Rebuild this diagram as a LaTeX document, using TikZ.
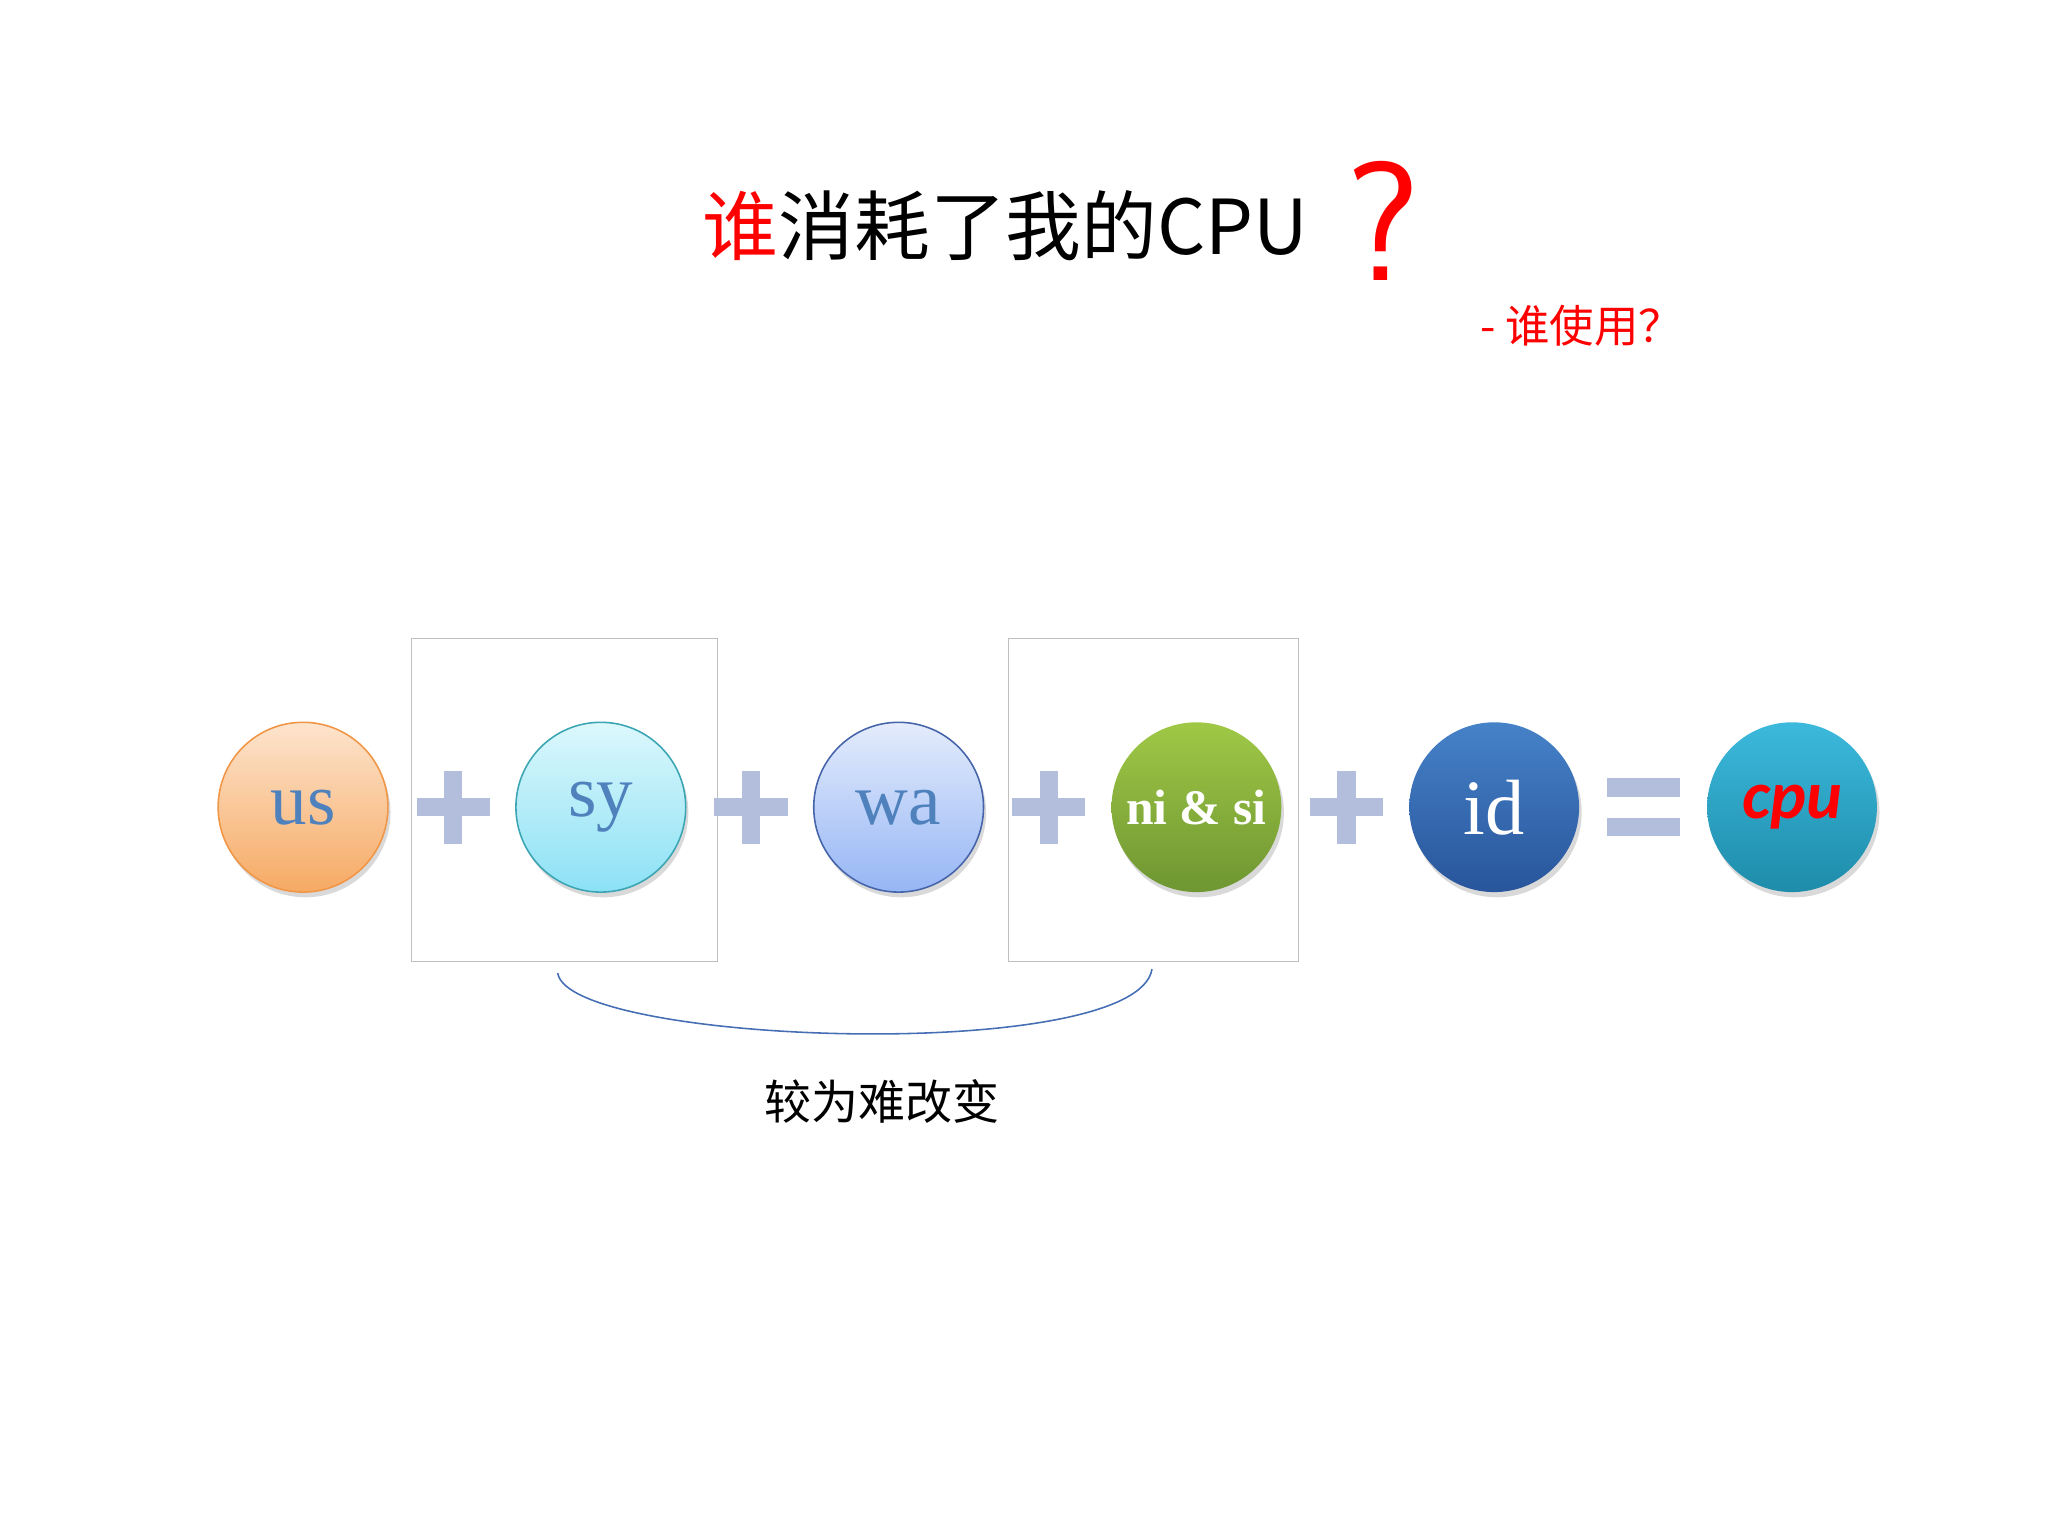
\documentclass[tikz,border=0pt]{standalone}
\usepackage{fontspec}
\setmainfont{Liberation Serif}
\newfontfamily\cjk{Noto Sans CJK SC}
\newfontfamily\carl{Carlito}
\usetikzlibrary{shadows}
\definecolor{plusc}{RGB}{178,190,220}
\definecolor{txtblue}{RGB}{79,129,189}
\tikzset{
 ball/.style={circle,minimum size=130pt,inner sep=0pt,line width=1.2pt,drop shadow={shadow xshift=2pt,shadow yshift=-4pt,opacity=0.3}},
 bar/.style={fill=plusc,draw=none},
 grpbox/.style={draw=black!25,line width=0.8pt},
}
\begin{document}
\begin{tikzpicture}[x=1pt,y=-1pt]
\useasboundingbox (0,0) rectangle (1568,1176);
% title
\node[anchor=base west,inner sep=0pt,font=\cjk\fontsize{58}{60}\selectfont] (title) at (538,195) {\textcolor{red}{谁}消耗了我的CPU};
\node[anchor=base west,inner sep=0pt,text=red,font=\fontsize{130}{130}\selectfont\sffamily] (qm) at (1030,215) {?};
\node[anchor=base west,inner sep=0pt,text=red,font=\cjk\fontsize{34}{36}\selectfont] (sub) at (1133,262) {- 谁使用？};
% boxes
\draw[grpbox] (315,489) rectangle (549,736);
\draw[grpbox] (772,489) rectangle (994,736);
% circles
\node[ball,draw={rgb,255:red,240;green,150;blue,70},top color={rgb,255:red,253;green,228;blue,205},bottom color={rgb,255:red,246;green,170;blue,100},text=txtblue,font=\fontsize{56}{56}\selectfont] (us) at (232,618) {us};
\node[ball,draw={rgb,255:red,60;green,165;blue,180},top color={rgb,255:red,220;green,248;blue,252},bottom color={rgb,255:red,140;green,225;blue,245},text=txtblue,font=\fontsize{56}{56}\selectfont] (sy) at (460,618) {sy};
\node[ball,draw={rgb,255:red,70;green,100;blue,170},top color={rgb,255:red,228;green,236;blue,252},bottom color={rgb,255:red,150;green,182;blue,245},text=txtblue,font=\fontsize{56}{56}\selectfont] (wa) at (688,618) {wa};
\node[ball,draw=none,top color={rgb,255:red,160;green,200;blue,70},bottom color={rgb,255:red,110;green,150;blue,50},text=white,font=\bfseries\fontsize{38}{38}\selectfont] (ni) at (916,618) {ni \& si};
\node[ball,draw=none,top color={rgb,255:red,70;green,130;blue,200},bottom color={rgb,255:red,40;green,85;blue,155},text=white,font=\fontsize{60}{60}\selectfont] (id) at (1144,618) {id};
\node[ball,draw=none,top color={rgb,255:red,60;green,185;blue,220},bottom color={rgb,255:red,30;green,140;blue,170},text=red,font=\carl\bfseries\itshape\fontsize{52}{52}\selectfont] (cpu) at (1372,618) {cpu};
% plus signs
\foreach \x in {347,575,803,1031}{
 \fill[bar] (\x-28,611) rectangle (\x+28,625);
 \fill[bar] (\x-7,590) rectangle (\x+7,646);
}
% equals
\fill[bar] (1230,596) rectangle (1286,610);
\fill[bar] (1230,626) rectangle (1286,640);
% brace curve
\coordinate (ca) at (427,745);
\coordinate (cb) at (882,742);
\draw[draw={rgb,255:red,70;green,110;blue,180},line width=1.2pt] (ca) .. controls (435,800) and (870,815) .. (cb);
\node[font=\cjk\fontsize{36}{38}\selectfont] (lab) at (675,843) {较为难改变};
\end{tikzpicture}
\end{document}
